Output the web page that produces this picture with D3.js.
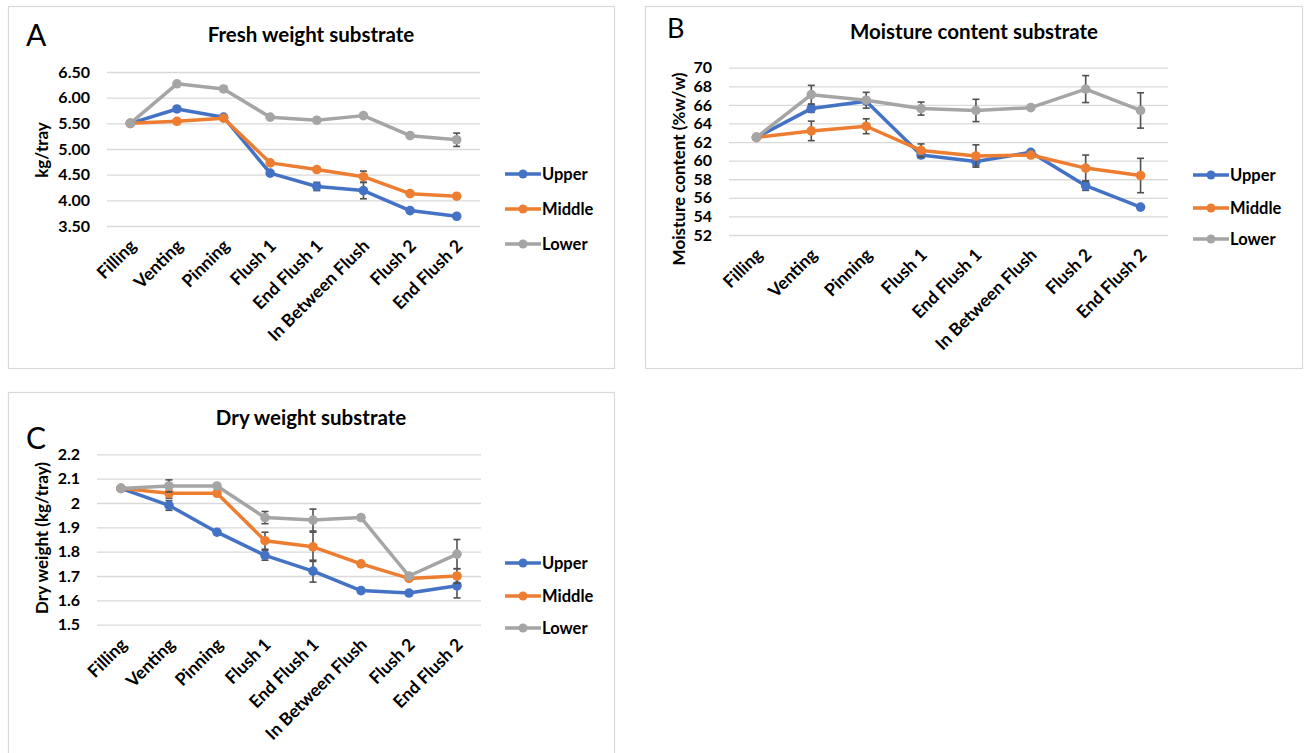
<!DOCTYPE html>
<html>
<head>
<meta charset="utf-8">
<script src="https://cdn.jsdelivr.net/npm/d3@7"></script>
<style>
  body { margin: 0; background: #fff; }
  text { font-family: Lato, "Open Sans", sans-serif; fill: #000; }
</style>
</head>
<body>
<div id="viewportContainer"></div>
<script>
/* --- data --- */
const categories = ["Filling", "Venting", "Pinning", "Flush 1", "End Flush 1", "In Between Flush", "Flush 2", "End Flush 2"];
const seriesNames = ["Upper", "Middle", "Lower"];
const seriesColors = ["#4472C4", "#ED7D31", "#A5A5A5"];

// A: fresh weight (kg/tray)
const freshUpper = [5.50, 5.78, 5.62, 4.53, 4.27, 4.19, 3.80, 3.69];
const freshMiddle = [5.50, 5.54, 5.60, 4.73, 4.60, 4.46, 4.13, 4.08];
const freshLower = [5.50, 6.27, 6.17, 5.62, 5.56, 5.65, 5.26, 5.18];
const freshUpperErr = [0, 0, 0, 0, 0.08, 0.16, 0, 0];
const freshMiddleErr = [0, 0, 0, 0, 0, 0.11, 0, 0];
const freshLowerErr = [0, 0, 0.05, 0, 0.03, 0, 0, 0.13];
const freshTicks = [3.5, 4.0, 4.5, 5.0, 5.5, 6.0, 6.5];

// B: moisture content (%w/w)
const moistUpper = [62.5, 65.6, 66.4, 60.6, 59.9, 60.9, 57.3, 55.0];
const moistMiddle = [62.5, 63.2, 63.7, 61.1, 60.5, 60.6, 59.2, 58.4];
const moistLower = [62.5, 67.1, 66.5, 65.6, 65.4, 65.7, 67.7, 65.4];
const moistUpperErr = [0, 0.4, 0, 0.3, 0.45, 0, 0.5, 0];
const moistMiddleErr = [0, 1.05, 0.8, 0.7, 1.2, 0, 1.4, 1.85];
const moistLowerErr = [0, 1.0, 0.85, 0.7, 1.2, 0, 1.45, 1.9];
const moistTicks = [52, 54, 56, 58, 60, 62, 64, 66, 68, 70];

// C: dry weight (kg/tray)
const dryUpper = [2.06, 1.99, 1.88, 1.785, 1.72, 1.64, 1.63, 1.66];
const dryMiddle = [2.06, 2.04, 2.04, 1.845, 1.82, 1.75, 1.69, 1.70];
const dryLower = [2.06, 2.07, 2.07, 1.94, 1.93, 1.94, 1.70, 1.79];
const dryUpperErr = [0, 0.02, 0, 0.02, 0.045, 0.01, 0, 0.05];
const dryMiddleErr = [0, 0.02, 0, 0.035, 0.06, 0, 0, 0.03];
const dryLowerErr = [0, 0.025, 0, 0.025, 0.045, 0.01, 0, 0.06];
const dryTicks = [1.5, 1.6, 1.7, 1.8, 1.9, 2.0, 2.1, 2.2];

/* --- layout of the three panels --- */
const panels = [
  {
    letter: "A", letterPos: [26, 46], letterSize: 30,
    frame: [8, 6, 614, 368],
    title: "Fresh weight substrate", titlePos: [311, 42],
    xRange: [107, 480], yRange: [226, 72], domain: [3.5, 6.5],
    ticks: freshTicks, fmt: d3.format(".2f"),
    yTitle: "kg/tray", yTitlePos: [42, 150],
    series: [freshUpper, freshMiddle, freshLower],
    errors: [freshUpperErr, freshMiddleErr, freshLowerErr],
    legendX: 505, legendY: [174, 209, 244]
  },
  {
    letter: "B", letterPos: [667, 38], letterSize: 27,
    frame: [645, 6, 1302, 368],
    title: "Moisture content substrate", titlePos: [974, 39],
    xRange: [729, 1168], yRange: [235, 67.7], domain: [52, 70],
    ticks: moistTicks, fmt: d3.format("d"),
    yTitle: "Moisture content (%w/w)", yTitlePos: [679, 169],
    series: [moistUpper, moistMiddle, moistLower],
    errors: [moistUpperErr, moistMiddleErr, moistLowerErr],
    legendX: 1193, legendY: [175, 208, 239]
  },
  {
    letter: "C", letterPos: [26, 449], letterSize: 30,
    frame: [8, 392, 614, 770],
    title: "Dry weight substrate", titlePos: [311, 425],
    xRange: [97, 481], yRange: [624.7, 454.3], domain: [1.5, 2.2],
    ticks: dryTicks, fmt: (d) => String(+d.toFixed(1)),
    yTitle: "Dry weight (kg/tray)", yTitlePos: [42, 538],
    series: [dryUpper, dryMiddle, dryLower],
    errors: [dryUpperErr, dryMiddleErr, dryLowerErr],
    legendX: 505, legendY: [563, 596, 628]
  }
];

const svg = d3
  .select("#viewportContainer")
  .append("svg")
  .attr("width", 1304)
  .attr("height", 753);

svg.append("rect").attr("width", 1304).attr("height", 753).attr("fill", "#fff");

function drawPanel(p) {
  const g = svg.append("g");

  // frame
  g.append("rect")
    .attr("x", p.frame[0] + 0.5)
    .attr("y", p.frame[1] + 0.5)
    .attr("width", p.frame[2] - p.frame[0])
    .attr("height", p.frame[3] - p.frame[1])
    .attr("fill", "#fff")
    .attr("stroke", "#d9d9d9")
    .attr("stroke-width", 1.2);

  // panel letter and title
  g.append("text")
    .attr("x", p.letterPos[0])
    .attr("y", p.letterPos[1])
    .attr("font-size", p.letterSize + "px")
    .text(p.letter);

  g.append("text")
    .attr("x", p.titlePos[0])
    .attr("y", p.titlePos[1])
    .attr("text-anchor", "middle")
    .attr("font-size", "20.5px")
    .attr("font-weight", 700)
    .text(p.title);

  const x = d3.scaleBand().domain(categories).range(p.xRange).padding(0);
  const cx = (c) => x(c) + x.bandwidth() / 2;
  const y = d3.scaleLinear().domain(p.domain).range(p.yRange);

  // y axis + gridlines
  const yAxis = g
    .append("g")
    .attr("transform", `translate(${p.xRange[0]},0)`)
    .call(
      d3.axisLeft(y)
        .tickValues(p.ticks)
        .tickFormat(p.fmt)
        .tickSize(-(p.xRange[1] - p.xRange[0]))
        .tickPadding(17)
    );
  yAxis.select(".domain").remove();
  yAxis.selectAll(".tick line").attr("stroke", "#d9d9d9").attr("stroke-width", 1.3);
  yAxis.selectAll(".tick text")
    .attr("font-size", "16px")
    .attr("font-weight", 700)
    .attr("font-family", "Lato, sans-serif")
    .attr("fill", "#000");

  // x labels
  const xAxis = g
    .append("g")
    .attr("transform", `translate(0,${p.yRange[0]})`)
    .call(d3.axisBottom(x).tickSize(0).tickPadding(0));
  xAxis.select(".domain").remove();
  xAxis.selectAll(".tick text")
    .attr("font-size", "17.5px")
    .attr("font-weight", 700)
    .attr("font-family", "Lato, sans-serif")
    .attr("fill", "#000")
    .attr("text-anchor", "end")
    .attr("dy", 0)
    .attr("y", 0)
    .attr("transform", "translate(7,21) rotate(-45)");

  // y title
  g.append("text")
    .attr("transform", `translate(${p.yTitlePos[0]},${p.yTitlePos[1]}) rotate(-90)`)
    .attr("text-anchor", "middle")
    .attr("dy", "0.35em")
    .attr("font-size", "17px")
    .attr("font-weight", 700)
    .text(p.yTitle);

  const line = d3
    .line()
    .x((d, i) => cx(categories[i]))
    .y((d) => y(d));

  // series: line, error bars, markers
  p.series.forEach((vals, si) => {
    const s = g.append("g");
    s.append("path")
      .datum(vals)
      .attr("d", line)
      .attr("fill", "none")
      .attr("stroke", seriesColors[si])
      .attr("stroke-width", 3.5)
      .attr("stroke-linejoin", "round");

    const errs = vals
      .map((v, i) => ({ v: v, e: p.errors[si][i], c: categories[i] }))
      .filter((d) => d.e > 0);

    const eb = s.selectAll(".err").data(errs).enter().append("g").attr("class", "err");
    eb.append("line")
      .attr("x1", (d) => cx(d.c)).attr("x2", (d) => cx(d.c))
      .attr("y1", (d) => y(d.v - d.e)).attr("y2", (d) => y(d.v + d.e))
      .attr("stroke", "#505050").attr("stroke-width", 1.6);
    [-1, 1].forEach((sign) => {
      eb.append("line")
        .attr("x1", (d) => cx(d.c) - 3.5).attr("x2", (d) => cx(d.c) + 3.5)
        .attr("y1", (d) => y(d.v + sign * d.e)).attr("y2", (d) => y(d.v + sign * d.e))
        .attr("stroke", "#505050").attr("stroke-width", 1.6);
    });

    s.selectAll(".pt")
      .data(vals)
      .enter()
      .append("circle")
      .attr("class", "pt")
      .attr("cx", (d, i) => cx(categories[i]))
      .attr("cy", (d) => y(d))
      .attr("r", 4.8)
      .attr("fill", seriesColors[si]);
  });

  // legend
  seriesNames.forEach((name, si) => {
    const ly = p.legendY[si];
    g.append("line")
      .attr("x1", p.legendX).attr("x2", p.legendX + 36)
      .attr("y1", ly).attr("y2", ly)
      .attr("stroke", seriesColors[si]).attr("stroke-width", 3.5);
    g.append("circle")
      .attr("cx", p.legendX + 18).attr("cy", ly).attr("r", 4.5)
      .attr("fill", seriesColors[si]);
    g.append("text")
      .attr("x", p.legendX + 37).attr("y", ly)
      .attr("dy", "0.35em")
      .attr("font-size", "16.5px")
      .attr("font-weight", 700)
      .text(name);
  });
}

panels.forEach(drawPanel);
</script>
</body>
</html>
